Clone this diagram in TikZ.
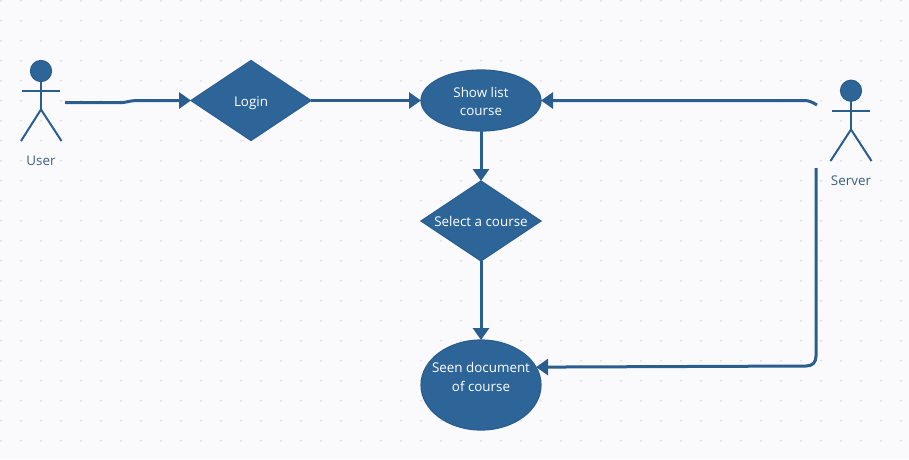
\documentclass[tikz,border=0pt]{standalone}
\usepackage{fontspec}
\setmainfont{Open Sans}
\usetikzlibrary{arrows.meta,shapes.geometric}
\definecolor{bgc}{HTML}{FAFAFD}
\definecolor{dotc}{HTML}{E0E2E8}
\definecolor{fillc}{HTML}{2E6599}
\definecolor{edgec}{HTML}{2A5E8E}
\definecolor{inkc}{HTML}{3A5F82}
\tikzset{
  shapebox/.style={draw=edgec,fill=fillc,line width=1.2pt,inner sep=0pt,outer sep=0pt},
  decision/.style={shapebox,diamond,minimum width=120pt,minimum height=80pt},
  oval/.style={shapebox,ellipse,minimum width=120pt},
  lbl/.style={text=white,font=\fontsize{13.4}{18.5}\selectfont,align=center,inner sep=0pt},
  actorlbl/.style={text=inkc,font=\fontsize{13.4}{16}\selectfont,inner sep=0pt},
  flow/.style={draw=edgec,line width=3pt,-{Triangle[length=12pt,width=16pt]}},
  limb/.style={draw=edgec,line width=2pt},
  head/.style={circle,draw=edgec,fill=fillc,line width=1.2pt,minimum size=21pt,inner sep=0pt,outer sep=0pt}
}
\begin{document}
\begin{tikzpicture}[x=1pt,y=-1pt]
\useasboundingbox (0,0) rectangle (909,459);
\fill[bgc] (0,0) rectangle (909,459);
\foreach \i in {0,...,45}{\foreach \j in {0,...,22}{
  \fill[dotc] ({20*\i+1},{20*\j+0.7}) circle (1.1pt);}}

% nodes
\node[decision,label={[lbl,yshift=-2.8pt]center:Login}] (login) at (251,100.5) {};
\node[oval,minimum height=61pt,label={[lbl,yshift=-1pt]center:Show list\\course}] (show) at (481,100.5) {};
\node[decision,label={[lbl,yshift=0pt]center:Select a course}] (select) at (481,221) {};
\node[oval,minimum height=90pt,label={[lbl,yshift=8pt]center:Seen document\\of course}] (seen) at (481,385) {};

% user actor
\node[head] (userhead) at (41,71) {};
\coordinate (userhip) at (41,109.5);
\coordinate (userarml) at (22,91);
\coordinate (userarmr) at (60,91);
\coordinate (userfootl) at (21,141);
\coordinate (userfootr) at (61.5,141);
\draw[limb] (userhead.south) -- (userhip);
\draw[limb] (userarml) -- (userarmr);
\draw[limb] (userfootl) -- (userhip) -- (userfootr);
\node[actorlbl] (userlabel) at (41,161) {User};

% server actor
\node[head] (serverhead) at (851,90.7) {};
\coordinate (serverhip) at (851,129.5);
\coordinate (serverarml) at (832,110.7);
\coordinate (serverarmr) at (870,110.7);
\coordinate (serverfootl) at (830.5,161);
\coordinate (serverfootr) at (871.5,161);
\draw[limb] (serverhead.south) -- (serverhip);
\draw[limb] (serverarml) -- (serverarmr);
\draw[limb] (serverfootl) -- (serverhip) -- (serverfootr);
\node[actorlbl] (serverlabel) at (851,181) {Server};

% connector end points
\coordinate (userout) at (65,102.7);
\coordinate (serverouta) at (817,105);
\coordinate (serveroutb) at (816,168);

% connectors
\draw[flow] (userout) -- (120,102.7) .. controls (126,102.7) and (130,100.5) .. (137,100.5) -- (login.west);
\draw[flow] (login.east) -- (show.west);
\draw[flow] (show.south) -- (select.north);
\draw[flow] (select.south) -- (seen.north);
\draw[flow] (serverouta) .. controls (812,102) and (809,100.5) .. (804,100.5) -- (show.east);
\draw[flow] (serveroutb) -- (816,356) .. controls (816,362.5) and (812.5,366) .. (806,366) -- (seen.18);
\end{tikzpicture}
\end{document}
